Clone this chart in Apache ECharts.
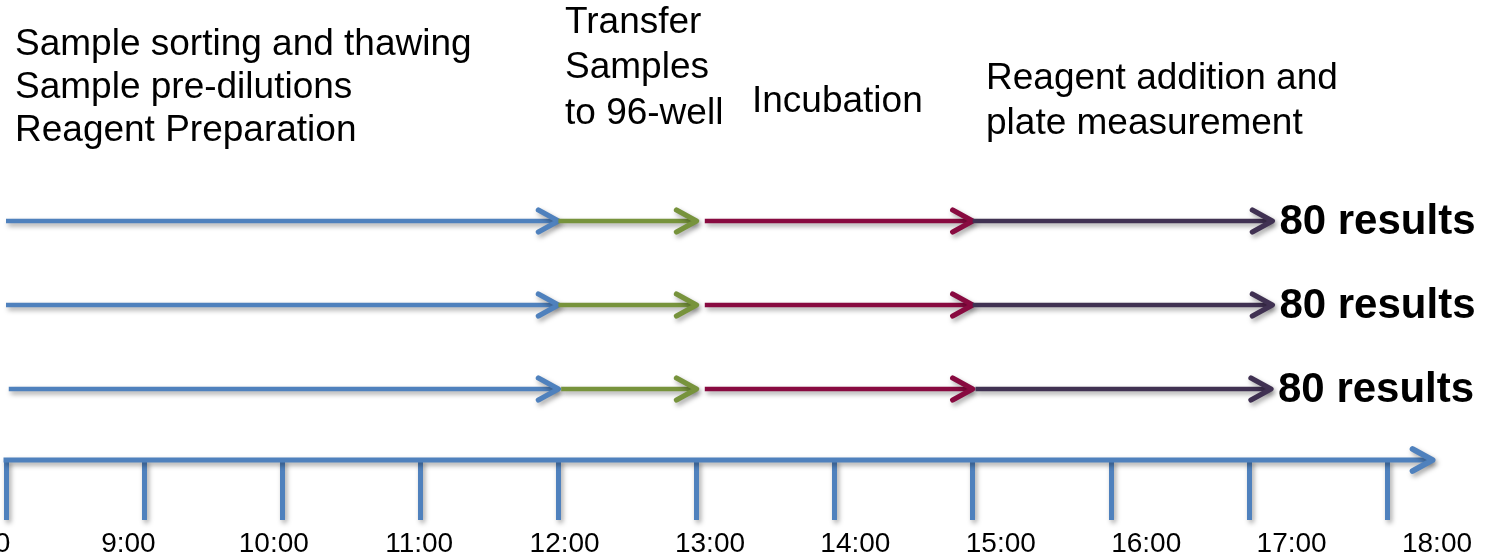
<!DOCTYPE html>
<html>
<head>
<meta charset="utf-8">
<script src="https://cdn.jsdelivr.net/npm/echarts@6/dist/echarts.min.js"></script>
<style>
html,body{margin:0;padding:0;background:#ffffff;}
#chart{width:1486px;height:555px;}
</style>
</head>
<body>
<div id="chart"></div>
<script>
// ---- data ----
const tickLabels = ['8:00','9:00','10:00','11:00','12:00','13:00','14:00','15:00','16:00','17:00','18:00'];
const runs = [1, 2, 3];
const phaseNames = ['Sample preparation', 'Transfer', 'Incubation', 'Reagent addition and measurement'];
// start / end hour of each phase, per run
const run1Start = [8.0, 12.0, 13.06, 15.0];
const run1End   = [12.0, 13.0, 15.0, 17.17];
const run2Start = [8.0, 12.0, 13.06, 15.0];
const run2End   = [12.0, 13.0, 15.0, 17.17];
const run3Start = [8.02, 12.02, 13.06, 15.02];
const run3End   = [12.0, 13.0, 15.0, 17.16];
const results = [80, 80, 80];
const timelineStart = 8;
const timelineEnd = 18.33;

const phaseTexts = [
  'Sample sorting and thawing\nSample pre-dilutions\nReagent Preparation',
  'Transfer\nSamples\nto 96-well',
  'Incubation',
  'Reagent addition and\nplate measurement'
];

// ---- styles ----
const phaseColors = ['#4F81BD', '#77933C', '#880A40', '#403152'];
const axisColor = '#4F81BD';
const FONT = '"Liberation Sans", Arial, sans-serif';
const shadow = { shadowColor: 'rgba(0,0,0,0.35)', shadowBlur: 5, shadowOffsetX: 2, shadowOffsetY: 3 };

const starts = [run1Start, run2Start, run3Start];
const ends = [run1End, run2End, run3End];
const arrowData = [];
runs.forEach(function (r, ri) {
  phaseNames.forEach(function (p, pi) {
    arrowData.push([starts[ri][pi], r, ends[ri][pi], pi, ri]);
  });
});

function arrowShapes(x0, y0, x1, y1, color, lw) {
  return [
    { type: 'line', shape: { x1: x0, y1: y0, x2: x1 - 1, y2: y1 },
      style: Object.assign({ stroke: color, lineWidth: lw, lineCap: 'butt' }, shadow) },
    { type: 'polyline', shape: { points: [[x1 - 20, y1 - 11], [x1, y1], [x1 - 20, y1 + 11]] },
      style: Object.assign({ stroke: color, fill: null, lineWidth: lw + 0.8, lineCap: 'round', lineJoin: 'round' }, shadow) }
  ];
}

const chart = echarts.init(document.getElementById('chart'), null, { renderer: 'canvas' });

const option = {
  backgroundColor: '#ffffff',
  animation: false,
  grid: [
    { left: 6, width: 1381, top: 137, height: 323, containLabel: false, outerBoundsMode: 'none' },
    { left: -17, width: 1454, top: 137, height: 323, containLabel: false, outerBoundsMode: 'none' }
  ],
  xAxis: [
    {
      gridIndex: 0, type: 'value', position: 'bottom', min: 8, max: 18, interval: 1,
      axisLine: { show: false, onZero: false },
      axisTick: { show: true, length: 60, inside: false,
        lineStyle: Object.assign({ color: axisColor, width: 5 }, shadow) },
      axisLabel: { show: false },
      splitLine: { show: false }
    },
    {
      gridIndex: 1, type: 'category', position: 'bottom', boundaryGap: false, data: tickLabels,
      axisLine: { show: false, onZero: false }, axisTick: { show: false }, splitLine: { show: false },
      axisLabel: { show: true, interval: 0, margin: 70, fontSize: 28, fontFamily: FONT, color: '#000000', hideOverlap: false }
    }
  ],
  yAxis: [
    { gridIndex: 0, type: 'value', inverse: true, min: 0, max: 3.845, show: false },
    { gridIndex: 1, type: 'value', show: false }
  ],
  series: [
    {
      type: 'custom',
      xAxisIndex: 0, yAxisIndex: 0,
      clip: false,
      encode: { x: [0, 2], y: 1 },
      data: arrowData,
      renderItem: function (params, api) {
        const s = api.value(0), r = api.value(1), e = api.value(2), pi = api.value(3), ri = api.value(4);
        const p0 = api.coord([s, r]);
        const p1 = api.coord([e, r]);
        const children = arrowShapes(p0[0], p0[1], p1[0], p1[1], phaseColors[pi], 4.5);
        if (pi === phaseNames.length - 1) {
          children.push({
            type: 'text',
            x: p1[0] + 7, y: p1[1] + 1,
            style: { text: results[ri] + ' results', fill: '#000000',
              font: 'bold 42px ' + FONT, align: 'left', verticalAlign: 'middle' }
          });
        }
        return { type: 'group', children: children };
      }
    },
    {
      type: 'custom',
      xAxisIndex: 0, yAxisIndex: 0,
      clip: false,
      encode: { x: [0, 1], y: 2 },
      data: [[timelineStart, timelineEnd, 3.845]],
      renderItem: function (params, api) {
        const y = params.coordSys.y + params.coordSys.height;
        const a = api.coord([api.value(0), api.value(2)]);
        const b = api.coord([api.value(1), api.value(2)]);
        return { type: 'group', children: arrowShapes(a[0] - 2.5, y, b[0], y, axisColor, 5) };
      }
    }
  ],
  graphic: [
    { type: 'text', x: 15, y: 23, style: { text: phaseTexts[0], font: '37px ' + FONT, lineHeight: 43, fill: '#000', verticalAlign: 'top' } },
    { type: 'text', x: 565, y: 0, style: { text: phaseTexts[1], font: '37px ' + FONT, lineHeight: 45.5, fill: '#000', verticalAlign: 'top' } },
    { type: 'text', x: 752, y: 80, style: { text: phaseTexts[2], font: '37px ' + FONT, lineHeight: 43, fill: '#000', verticalAlign: 'top' } },
    { type: 'text', x: 986, y: 56, style: { text: phaseTexts[3], font: '37px ' + FONT, lineHeight: 45, fill: '#000', verticalAlign: 'top' } }
  ]
};
chart.setOption(option);
</script>
</body>
</html>
